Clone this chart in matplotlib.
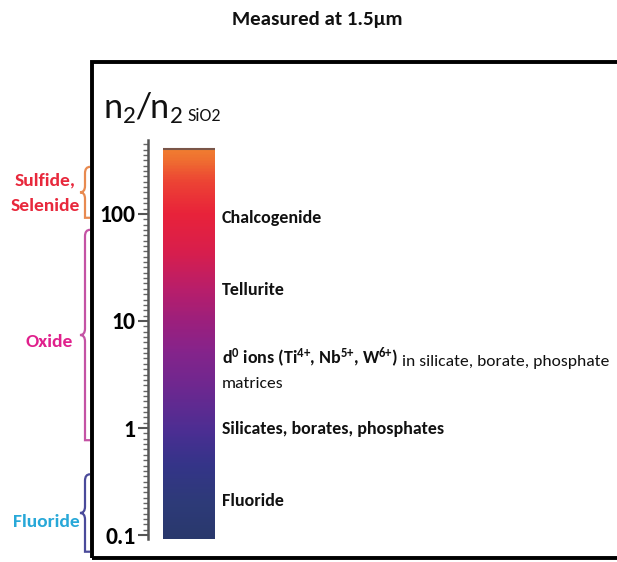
import numpy as np
import matplotlib
matplotlib.use("Agg")
import matplotlib.pyplot as plt
from matplotlib.colors import LinearSegmentedColormap
from matplotlib.path import Path
from matplotlib.patches import PathPatch, Rectangle
import matplotlib.transforms as mtransforms

# ---------------- data ----------------
title = "Measured at 1.5μm"
ylabel_main = r"n$_2$/n$_2$"
ylabel_sub = "SiO2"
tick_values = [0.1, 1, 10, 100]
tick_labels = ["0.1", "1", "10", "100"]

bar_bottom = 0.092
bar_top = 400

# gradient colour stops: (value, colour)
grad_values = [0.092, 0.2, 0.45, 0.9, 2.2, 5.5, 10, 20, 45, 100, 200, 330, 400]
grad_colors = ["#29386c", "#2d3a78", "#343488", "#4a2e92", "#6a2890", "#87238a",
               "#9c1f7c", "#b81e6a", "#d81e4c", "#e8223a", "#ec4234", "#ef7030", "#f07c30"]

material_names = ["Chalcogenide", "Tellurite", "Silicates, borates, phosphates", "Fluoride"]
material_values = [92, 19.5, 0.97, 0.21]
d0_bold = r"d$^{0}$ ions (Ti$^{4{+}}$, Nb$^{5{+}}$, W$^{6{+}}$)"
d0_rest = " in silicate, borate, phosphate"
d0_line2 = "matrices"
d0_value = 4.6
d0_line2_value = 2.6

group_names = ["Sulfide,\nSelenide", "Oxide", "Fluoride"]
group_ranges = [(92, 275), (0.77, 71), (0.07, 0.37)]
group_label_values = [157, 6.3, 0.133]
group_label_x = [45, 49, 46]
group_text_colors = ["#e8283c", "#e0208c", "#28a8d8"]
group_brace_colors = ["#e88a50", "#c453a4", "#4a4a9a"]

# ---------------- figure ----------------
W, H = 617, 562
FONT = ['Carlito', 'Liberation Sans', 'DejaVu Sans']
plt.rcParams['font.family'] = FONT
plt.rcParams['mathtext.fontset'] = 'custom'
plt.rcParams['mathtext.rm'] = 'Carlito'
plt.rcParams['mathtext.bf'] = 'Carlito:bold'
plt.rcParams['mathtext.default'] = 'regular'
fig = plt.figure(figsize=(W / 100, H / 100), dpi=100)

def fx(x):
    return x / W

def fy(y):
    return 1 - y / H

# frame
fig.patches.append(Rectangle((fx(92), fy(558)), fx(700) - fx(92), fy(62) - fy(558),
                             transform=fig.transFigure, fill=False, lw=2.8,
                             edgecolor="black", zorder=5))

ax_left, ax_top, ax_bottom = 148, 140, 539
ax = fig.add_axes([fx(ax_left), fy(ax_bottom), fx(617) - fx(ax_left), fy(ax_top) - fy(ax_bottom)])
ax.set_yscale('log')
ax.set_xlim(0, 1)
ax.set_ylim(bar_bottom, 490)
ax.patch.set_alpha(0)

# gradient bar
lv = np.log10(grad_values)
pos = (lv - lv[0]) / (lv[-1] - lv[0])
cmap = LinearSegmentedColormap.from_list("n2", list(zip(pos, grad_colors)))
yedges = np.logspace(np.log10(bar_bottom), np.log10(bar_top), 400)
ycent = np.sqrt(yedges[:-1] * yedges[1:])
xedges = np.array([0.032, 0.143])
C = np.log10(ycent)[:, None]
ax.pcolormesh(xedges, yedges, C, cmap=cmap, vmin=lv[0], vmax=lv[-1], shading='flat')
ax.plot(xedges, [bar_top, bar_top], color="#7a5548", lw=1.5, solid_capstyle='butt')

# axis styling
for s in ['top', 'right', 'bottom']:
    ax.spines[s].set_visible(False)
ax.spines['left'].set_color('#555555')
ax.spines['left'].set_linewidth(1.8)
ax.set_xticks([])
ax.set_yticks(tick_values)
ax.set_yticklabels(tick_labels)
ax.yaxis.set_minor_locator(matplotlib.ticker.FixedLocator(10 ** np.arange(-1.0, 2.7, 0.05)))
ax.yaxis.set_minor_formatter(matplotlib.ticker.NullFormatter())
ax.tick_params(axis='y', which='major', length=7, width=1.5, color='#555555', pad=2)
ax.tick_params(axis='y', which='minor', length=3.5, width=1.0, color='#666666')
for lab in ax.get_yticklabels():
    lab.set_fontweight('bold')
    lab.set_fontsize(17)

# material labels
tx = 0.158
FS = 13
for name, val in zip(material_names, material_values):
    ax.text(tx, val, name, fontsize=FS, fontweight='bold',
            va='center', ha='left', color='#111111')
t1 = ax.text(tx, d0_value, d0_bold, fontsize=FS, fontweight='bold',
             va='center', ha='left', color='#111111')
ax.annotate(d0_rest, xy=(1, 0), xycoords=t1, va='bottom', ha='left',
            fontsize=12.6, color='#111111')
ax.text(tx, d0_line2_value, d0_line2, fontsize=12.6,
        va='center', ha='left', color='#111111')

# title and y label
fig.text(fx(317), fy(20), title, fontsize=15, fontweight='bold',
         ha='center', va='center', color='#111111')
yl = fig.text(fx(103), fy(108), ylabel_main, fontsize=26,
              ha='left', va='center', color='#111111')
ax.annotate(ylabel_sub, xy=(1, 0), xycoords=yl, xytext=(3, 1), textcoords='offset points',
            va='bottom', ha='left', fontsize=13, color='#111111', annotation_clip=False)

# braces and group labels
trans = mtransforms.blended_transform_factory(fig.transFigure, ax.transData)

def brace(y0, y1, x_tip, x_end, color):
    l0, l1 = np.log10(y0), np.log10(y1)
    lm = 0.5 * (l0 + l1)
    d = 0.06
    xm = 0.5 * (x_tip + x_end)
    pts = [(x_end, l1), (xm, l1), (xm, l1 - d), (xm, lm + d),
           (xm, lm), (x_tip, lm), (x_tip, lm),
           (xm, lm), (xm, lm - d), (xm, l0 + d),
           (xm, l0), (xm, l0), (x_end, l0)]
    codes = [Path.MOVETO, Path.CURVE3, Path.CURVE3, Path.LINETO,
             Path.CURVE3, Path.CURVE3, Path.LINETO,
             Path.CURVE3, Path.CURVE3, Path.LINETO,
             Path.CURVE3, Path.CURVE3, Path.LINETO]
    verts = [(fx(px), 10 ** ly) for px, ly in pts]
    p = PathPatch(Path(verts, codes), transform=trans, fill=False,
                  edgecolor=color, lw=1.6, clip_on=False)
    ax.add_patch(p)

for (lo, hi), lab, lval, lx, tc, bc in zip(group_ranges, group_names, group_label_values,
                                           group_label_x, group_text_colors, group_brace_colors):
    brace(lo, hi, 80, 90, bc)
    ax.text(fx(lx), lval, lab, transform=trans, fontsize=14, fontweight='bold',
            color=tc, ha='center', va='center', linespacing=1.75, clip_on=False)

fig.savefig("out.png", dpi=100)
